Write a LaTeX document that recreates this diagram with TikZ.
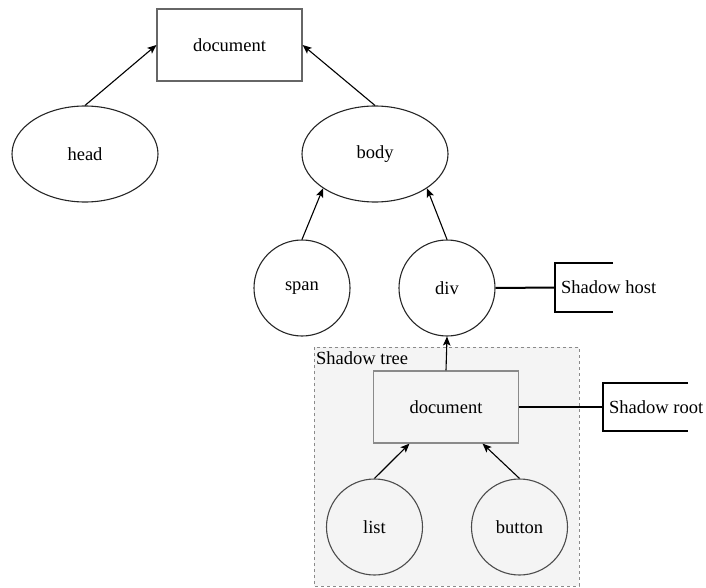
\documentclass[tikz,border=0pt]{standalone}
\usepackage{fontspec}
\setmainfont{Liberation Serif}
\newfontfamily\labelfont{Liberation Serif}
\usetikzlibrary{shapes.geometric,arrows.meta,calc}
\definecolor{boxgray}{HTML}{666666}
\definecolor{treefill}{HTML}{F4F4F4}
\definecolor{treeline}{HTML}{8A8A8A}
\tikzset{
  every node/.style={font=\labelfont\fontsize{18.5}{22}\selectfont, text=black},
  rectbox/.style={rectangle, draw=boxgray, line width=1.2pt, minimum width=145pt, minimum height=72pt, inner sep=0pt},
  ovalnode/.style={ellipse, draw=black!85, line width=1.1pt, minimum width=146pt, minimum height=96pt, inner sep=0pt},
  roundnode/.style={circle, draw=black!85, line width=1.1pt, minimum size=96pt, inner sep=0pt},
  linkarrow/.style={-{Stealth[length=9pt,width=7.5pt,inset=2pt]}, line width=1.1pt, black},
  hostline/.style={line width=2pt, black},
  bracketlbl/.style={anchor=west, inner xsep=6pt, inner ysep=0pt, minimum height=48pt},
}
\begin{document}
\begin{tikzpicture}[x=1pt,y=-1pt]
  \useasboundingbox (0,0) rectangle (706,588);

  % shadow tree region
  \draw[treeline, fill=treefill, line width=1pt, dash pattern=on 3pt off 3pt] (314,347) rectangle (579,586);
  \node[anchor=north west, inner sep=2pt] (treelbl) at (314,349) {Shadow tree};

  % light tree
  \node[rectbox] (doc) at (229.5,45) {document};
  \node[ovalnode] (head) at (85,154) {head};
  \node[ovalnode] (body) at (375,154) {body};
  \node[roundnode] (span) at (302,288) {span};
  \node[roundnode] (div) at (447,288) {div};

  % shadow tree contents
  \node[rectbox, draw=treeline, fill=treefill] (sdoc) at (446,407) {document};
  \node[roundnode, draw=black!70] (list) at (374.5,527) {list};
  \node[roundnode, draw=black!70] (button) at (519.5,527) {button};

  % labels with brackets
  \node[bracketlbl] (host) at (555,287.5) {Shadow host};
  \node[bracketlbl] (root) at (603,407) {Shadow root};
  \draw[hostline] ($(host.north west)+(58,0)$) -- (host.north west) -- (host.south west) -- ++(58,0);
  \draw[hostline] ($(root.north west)+(85,0)$) -- (root.north west) -- (root.south west) -- ++(85,0);
  \draw[hostline] (div.east) -- (host.west);
  \draw[hostline] (sdoc.east) -- (root.west);

  % parent links
  \draw[linkarrow] (head.north) -- (doc.west);
  \draw[linkarrow] (body.north) -- (doc.east);
  \draw[linkarrow] (span.north) -- (body.south west);
  \draw[linkarrow] (div.north) -- (body.south east);
  \draw[linkarrow] (sdoc.north) -- (div.south);
  \draw[linkarrow] (list.north) -- ($(sdoc.south)!0.5!(sdoc.south west)$);
  \draw[linkarrow] (button.north) -- ($(sdoc.south)!0.5!(sdoc.south east)$);
\end{tikzpicture}
\end{document}
